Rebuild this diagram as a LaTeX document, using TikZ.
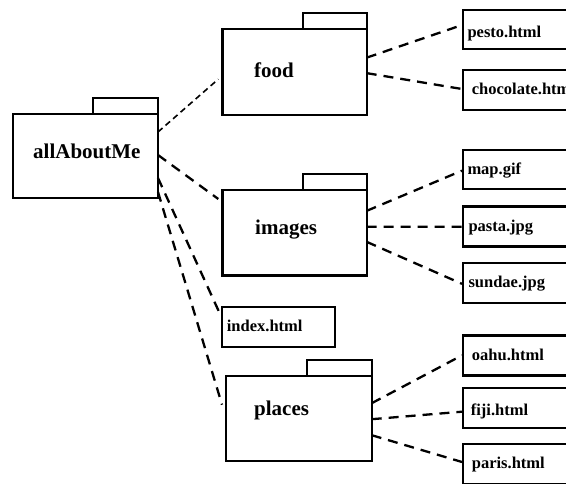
\documentclass[tikz,border=0pt]{standalone}
\usepackage{fontspec}
\setmainfont{Liberation Serif}
\begin{document}
\begin{tikzpicture}[x=1pt,y=1pt,
  box/.style={draw, line width=2.4pt, inner sep=0pt, outer sep=0pt},
  tabbox/.style={draw, line width=2.4pt, inner sep=0pt, outer sep=0pt, anchor=south east, minimum width=65pt, minimum height=16pt},
  filebox/.style={draw, line width=2.4pt, inner sep=0pt, outer sep=0pt, minimum width=157pt, minimum height=40pt},
  bigl/.style={anchor=base west, inner sep=0pt, font=\bfseries\fontsize{21}{24}\selectfont},
  smalll/.style={anchor=base west, inner sep=0pt, font=\bfseries\fontsize{16.5}{19}\selectfont},
  dep/.style={line width=2.3pt, dash pattern=on 10pt off 7pt},
  depthin/.style={line width=1.6pt, dash pattern=on 6pt off 4pt}]
\useasboundingbox (0,0) rectangle (566,483);
\fill[white] (0,0) rectangle (566,483);
\clip (0,0) rectangle (566,483);

% folders
\node[box, minimum width=145pt, minimum height=84pt] (am) at (85.5,327) {};
\node[tabbox] (amtab) at (am.north east) {};
\node[bigl] (amlabel) at (33,324) {allAboutMe};

\node[box, minimum width=144.4pt, minimum height=85.7pt] (food) at (294.5,410.85) {};
\node[tabbox, minimum width=64pt] (foodtab) at (food.north east) {};
\node[bigl] (foodlabel) at (254,405.3) {food};

\node[box, minimum width=144.4pt, minimum height=85.7pt] (images) at (294.5,250.15) {};
\node[tabbox, minimum width=64pt] (imagestab) at (images.north east) {};
\node[bigl] (imageslabel) at (255,248) {images};

\node[box, minimum width=145.7pt, minimum height=85pt] (places) at (298.85,64.8) {};
\node[tabbox] (placestab) at (places.north east) {};
\node[bigl] (placeslabel) at (254,67) {places};

% files
\node[box, minimum width=113.3pt, minimum height=40pt] (index) at (278.35,155.7) {};
\node[smalll] (indexlabel) at (226.7,151.3) {index.html};

\node[filebox, minimum height=39.3pt] (pesto) at (541.5,453.35) {};
\node[smalll] (pestolabel) at (467.3,445.7) {pesto.html};
\node[filebox] (choc) at (541.5,393) {};
\node[smalll] (choclabel) at (471.7,388.7) {chocolate.htm};

\node[filebox, minimum height=39.3pt] (map) at (541.5,313.35) {};
\node[smalll] (maplabel) at (467.3,308) {map.gif};
\node[filebox] (pasta) at (541.5,256.3) {};
\node[smalll] (pastalabel) at (468.3,251.3) {pasta.jpg};
\node[filebox] (sundae) at (541.5,200.15) {};
\node[smalll] (sundaelabel) at (468.3,195.3) {sundae.jpg};

\node[filebox] (oahu) at (541.5,127.65) {};
\node[smalll] (oahulabel) at (471.7,123) {oahu.html};
\node[filebox] (fiji) at (541.5,75.3) {};
\node[smalll] (fijilabel) at (470.7,67.3) {fiji.html};
\node[filebox] (paris) at (541.5,19) {};
\node[smalll] (parislabel) at (471.7,14.7) {paris.html};

% connectors
\draw[depthin] ([yshift=24pt]am.east) -- ([xshift=-4pt,yshift=-7pt]food.west);
\draw[dep] ([yshift=1pt]am.east) -- ([xshift=-4pt,yshift=-9pt]images.north west);
\draw[dep] ([yshift=-22pt]am.east) -- ([xshift=-2pt,yshift=-6pt]index.north west);
\draw[dep] ([yshift=-36pt]am.east) -- ([xshift=-4pt,yshift=-29pt]places.north west);

\draw[dep] ([yshift=14.5pt]food.east) -- ([xshift=-1pt,yshift=4.6pt]pesto.west);
\draw[dep] ([yshift=-1pt]food.east) -- ([xshift=-1pt,yshift=1pt]choc.west);

\draw[dep] ([yshift=22pt]images.east) -- ([xshift=-1pt,yshift=-1pt]map.west);
\draw[dep] ([yshift=6pt]images.east) -- ([xshift=-1pt]pasta.west);
\draw[dep] ([yshift=-9pt]images.east) -- ([xshift=-1pt,yshift=-1pt]sundae.west);

\draw[dep] ([yshift=15pt]places.east) -- ([xshift=-1pt]oahu.west);
\draw[dep] ([yshift=-1pt]places.east) -- ([xshift=-1pt,yshift=-4pt]fiji.west);
\draw[dep] ([yshift=-17pt]places.east) -- ([xshift=-1pt,yshift=2pt]paris.west);
\end{tikzpicture}
\end{document}
